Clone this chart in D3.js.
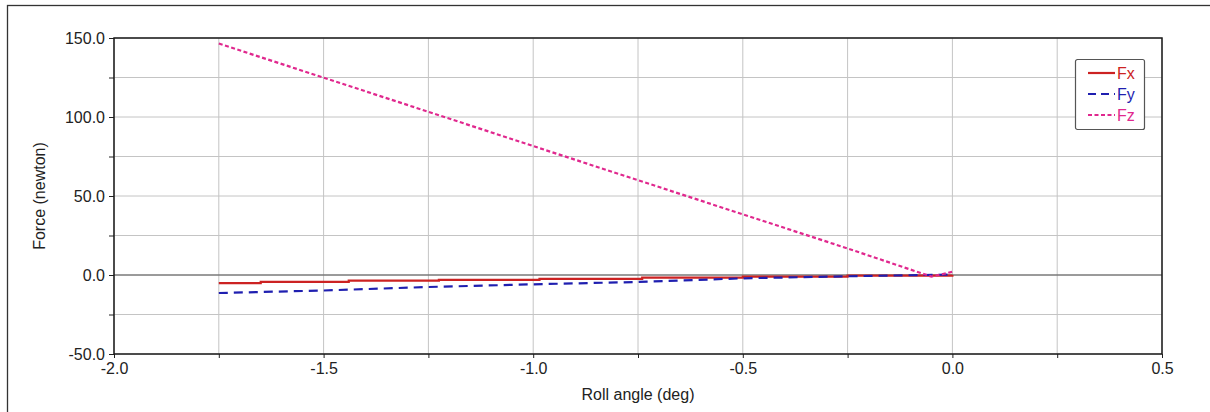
<!DOCTYPE html>
<html>
<head>
<meta charset="utf-8">
<script src="https://cdn.jsdelivr.net/npm/d3@7"></script>
<style>
  body { margin: 0; background: #fff; }
  text { font-family: "Liberation Sans", Arial, sans-serif; }
</style>
</head>
<body>
<div id="plot"></div>
<script>
// Chart data
const fxAngle = [-1.75, -1.65, -1.44, -1.225, -0.985, -0.74, -0.5, -0.25, 0.0];
const fxForce = [-5.1, -4.4, -3.6, -3.1, -2.4, -1.6, -1.0, -0.4, 0.0];

const fyAngle = [-1.75, -1.5, -1.25, -1.0, -0.75, -0.5, -0.25, 0.0];
const fyForce = [-11.4, -9.8, -7.6, -5.9, -4.4, -2.1, -0.8, 0.3];

const fzAngle = [-1.75, -1.5, -1.25, -1.0, -0.75, -0.5, -0.25, -0.05, 0.0];
const fzForce = [146.5, 124.9, 103.3, 81.6, 60.0, 38.4, 16.8, -1.0, 2.0];

const xTickLabels = [-2.0, -1.5, -1.0, -0.5, 0.0, 0.5];
const yTickLabels = [-50, 0, 50, 100, 150];
const seriesNames = ["Fx", "Fy", "Fz"];

const svgWidth = 1210;
const svgHeight = 412;
const margin = { top: 38, right: 48, bottom: 58, left: 114 };
const width = svgWidth - margin.left - margin.right;
const height = svgHeight - margin.top - margin.bottom;

const colors = ["#cc2222", "#1f1fb0", "#e0288e"];
const dashes = [null, "9,6", "4,2.5"];

// plain hyphen minus, one decimal
const fmt = (d) => d.toFixed(1);

const svgRoot = d3.select("div#plot").append("svg")
  .attr("width", svgWidth)
  .attr("height", svgHeight);

// outer frame
svgRoot.append("rect")
  .attr("x", 7.5).attr("y", 5.5)
  .attr("width", svgWidth).attr("height", svgHeight)
  .attr("fill", "none").attr("stroke", "#333").attr("stroke-width", 1.3);

const svg = svgRoot.append("g")
  .attr("transform", "translate(" + margin.left + "," + margin.top + ")");

const x = d3.scaleLinear().domain([-2.0, 0.5]).range([0, width]);
const y = d3.scaleLinear().domain([-50, 150]).range([height, 0]);

// grid every 0.25 / 25
const xGrid = d3.range(-2.0, 0.5001, 0.25);
const yGrid = d3.range(-50, 150.001, 25);

svg.append("g").selectAll("line").data(xGrid).enter().append("line")
  .attr("x1", (d) => x(d)).attr("x2", (d) => x(d))
  .attr("y1", 0).attr("y2", height)
  .attr("stroke", "#c4c4c4").attr("stroke-width", 1);

svg.append("g").selectAll("line").data(yGrid).enter().append("line")
  .attr("x1", 0).attr("x2", width)
  .attr("y1", (d) => y(d)).attr("y2", (d) => y(d))
  .attr("stroke", "#c4c4c4").attr("stroke-width", 1);

// zero line
svg.append("line")
  .attr("x1", 0).attr("x2", width)
  .attr("y1", y(0)).attr("y2", y(0))
  .attr("stroke", "#555").attr("stroke-width", 1.2);

// axes
const xAxis = d3.axisBottom(x).tickValues(xGrid).tickSize(4)
  .tickFormat((d) => xTickLabels.some((t) => Math.abs(t - d) < 1e-9) ? fmt(d) : "");
const yAxis = d3.axisLeft(y).tickValues(yGrid).tickSize(5)
  .tickFormat((d) => yTickLabels.indexOf(Math.round(d)) >= 0 ? fmt(d) : "");

const gx = svg.append("g").attr("transform", "translate(0," + height + ")").call(xAxis);
const gy = svg.append("g").call(yAxis);
[gx, gy].forEach((g) => {
  g.select(".domain").remove();
  g.selectAll(".tick line").attr("stroke", "#222");
  g.selectAll(".tick text").attr("fill", "#222").style("font-size", "16px")
    .style("font-family", "'Liberation Sans', Arial, sans-serif");
});
gx.selectAll(".tick text").attr("dy", "0.9em").attr("y", 6);
gy.selectAll(".tick text").attr("x", -9);

// plot border
svg.append("rect")
  .attr("x", 0).attr("y", 0).attr("width", width).attr("height", height)
  .attr("fill", "none").attr("stroke", "#1a1a1a").attr("stroke-width", 1.5);

// series
const line = d3.line().x((d) => x(d[0])).y((d) => y(d[1]));
const fx = fxAngle.map((a, i) => [a, fxForce[i]]);
const fy = fyAngle.map((a, i) => [a, fyForce[i]]);
const fz = fzAngle.map((a, i) => [a, fzForce[i]]);

svg.append("path").datum(fx)
  .attr("d", line.curve(d3.curveStepAfter))
  .attr("fill", "none").attr("stroke", colors[0]).attr("stroke-width", 2.2);
svg.append("path").datum(fy)
  .attr("d", line.curve(d3.curveLinear))
  .attr("fill", "none").attr("stroke", colors[1]).attr("stroke-width", 2.2)
  .attr("stroke-dasharray", dashes[1]);
svg.append("path").datum(fz)
  .attr("d", line.curve(d3.curveLinear))
  .attr("fill", "none").attr("stroke", colors[2]).attr("stroke-width", 2.2)
  .attr("stroke-dasharray", dashes[2]);

// axis titles
svgRoot.append("text")
  .attr("x", margin.left + width / 2).attr("y", 400)
  .attr("text-anchor", "middle").style("font-size", "16px").attr("fill", "#222")
  .text("Roll angle (deg)");
svgRoot.append("text")
  .attr("transform", "translate(45," + (margin.top + height / 2) + ") rotate(-90)")
  .attr("text-anchor", "middle").style("font-size", "16px").attr("fill", "#222")
  .text("Force (newton)");

// legend
const legend = svgRoot.append("g").attr("transform", "translate(1075,59)");
legend.append("rect")
  .attr("x", 0.5).attr("y", 0.5).attr("width", 69).attr("height", 70)
  .attr("rx", 2).attr("fill", "#fff").attr("stroke", "#555").attr("stroke-width", 1.2);
const items = legend.selectAll(".item").data(seriesNames).enter().append("g")
  .attr("class", "item")
  .attr("transform", (d, i) => "translate(0," + (14 + i * 21) + ")");
items.append("line")
  .attr("x1", 13).attr("x2", 40).attr("y1", 0).attr("y2", 0)
  .attr("stroke", (d, i) => colors[i]).attr("stroke-width", 2.2)
  .attr("stroke-dasharray", (d, i) => i === 1 ? "8,5" : dashes[i]);
items.append("text")
  .attr("x", 42).attr("y", 6)
  .style("font-size", "16px").attr("fill", (d, i) => colors[i])
  .text((d) => d);
</script>
</body>
</html>
